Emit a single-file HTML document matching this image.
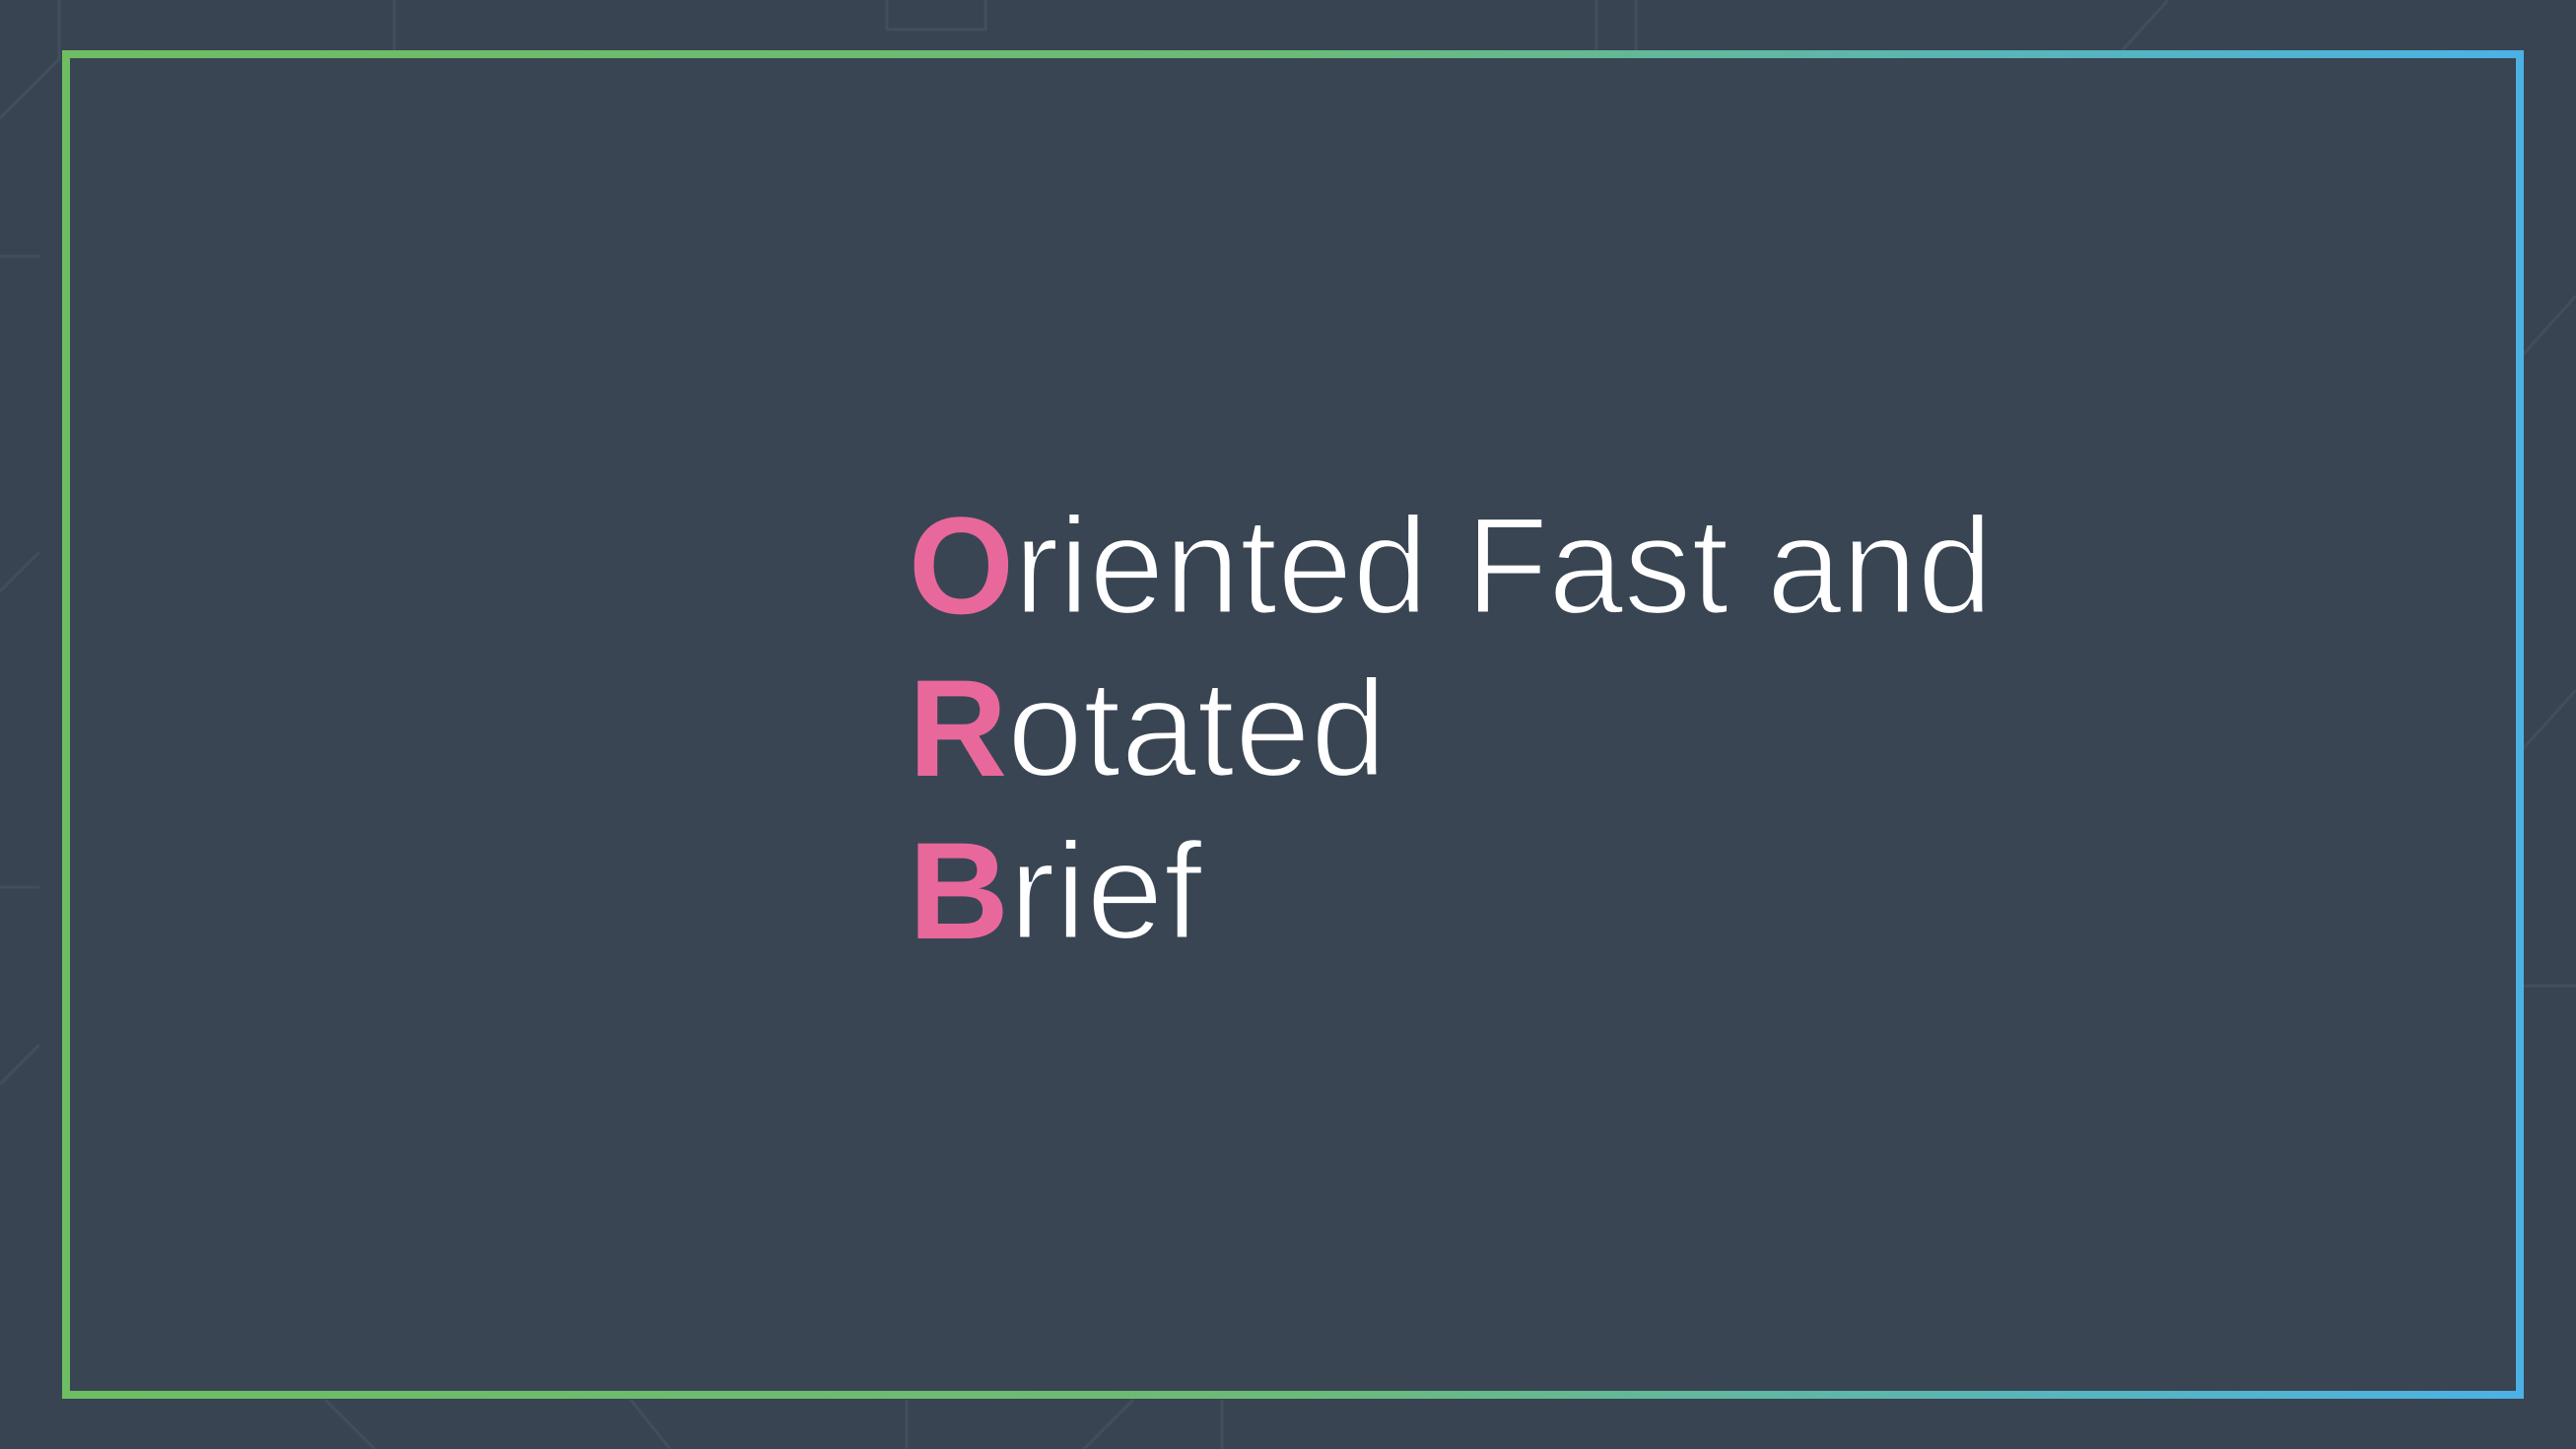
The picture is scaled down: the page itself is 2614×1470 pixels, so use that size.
<!DOCTYPE html>
<html><head><meta charset="utf-8"><style>
html,body{margin:0;padding:0;background:#394553;}
svg{display:block}
</style></head><body>
<svg width="2614" height="1470" viewBox="0 0 2614 1470" xmlns="http://www.w3.org/2000/svg">
<defs>
<linearGradient id="g" x1="0" y1="0" x2="1" y2="0">
<stop offset="0" stop-color="#6fbd62"/>
<stop offset="0.5" stop-color="#6bbb78"/>
<stop offset="1" stop-color="#4cb2e6"/>
</linearGradient>
</defs>
<rect width="2614" height="1470" fill="#384452"/>
<g stroke="#45515f" stroke-width="3" fill="none" opacity="0.8">
<path d="M0 120 L60 60 L60 0"/><path d="M0 260 L40 260"/><path d="M0 600 L40 560"/>
<path d="M0 900 L40 900"/><path d="M0 1100 L40 1060"/>
<path d="M380 1470 L330 1420"/><path d="M680 1470 L640 1420"/><path d="M920 1470 L920 1420"/>
<path d="M1100 1470 L1150 1420"/><path d="M1240 1470 L1240 1420"/>
<path d="M2614 300 L2560 360"/><path d="M2614 700 L2560 760"/><path d="M2614 1000 L2560 1000"/>
<path d="M1620 0 L1620 55"/><path d="M1660 0 L1660 55"/><path d="M2200 0 L2150 55"/>
<path d="M900 0 L900 30 L1000 30 L1000 0"/><path d="M400 0 L400 55"/>
</g>
<rect x="67" y="55" width="2490" height="1360" fill="#394553" stroke="url(#g)" stroke-width="8"/>
<g font-family="'Liberation Sans', sans-serif" font-size="140" fill="#ffffff" stroke="#394553" stroke-width="3">
<text x="922" y="622" textLength="1100" lengthAdjust="spacingAndGlyphs"><tspan fill="#e8689c" stroke="none" font-weight="700">O</tspan>riented Fast and</text>
<text x="922" y="787" textLength="485" lengthAdjust="spacingAndGlyphs"><tspan fill="#e8689c" stroke="none" font-weight="700">R</tspan>otated</text>
<text x="922" y="952" textLength="298" lengthAdjust="spacingAndGlyphs"><tspan fill="#e8689c" stroke="none" font-weight="700">B</tspan>rief</text>
</g>
</svg>
</body></html>
